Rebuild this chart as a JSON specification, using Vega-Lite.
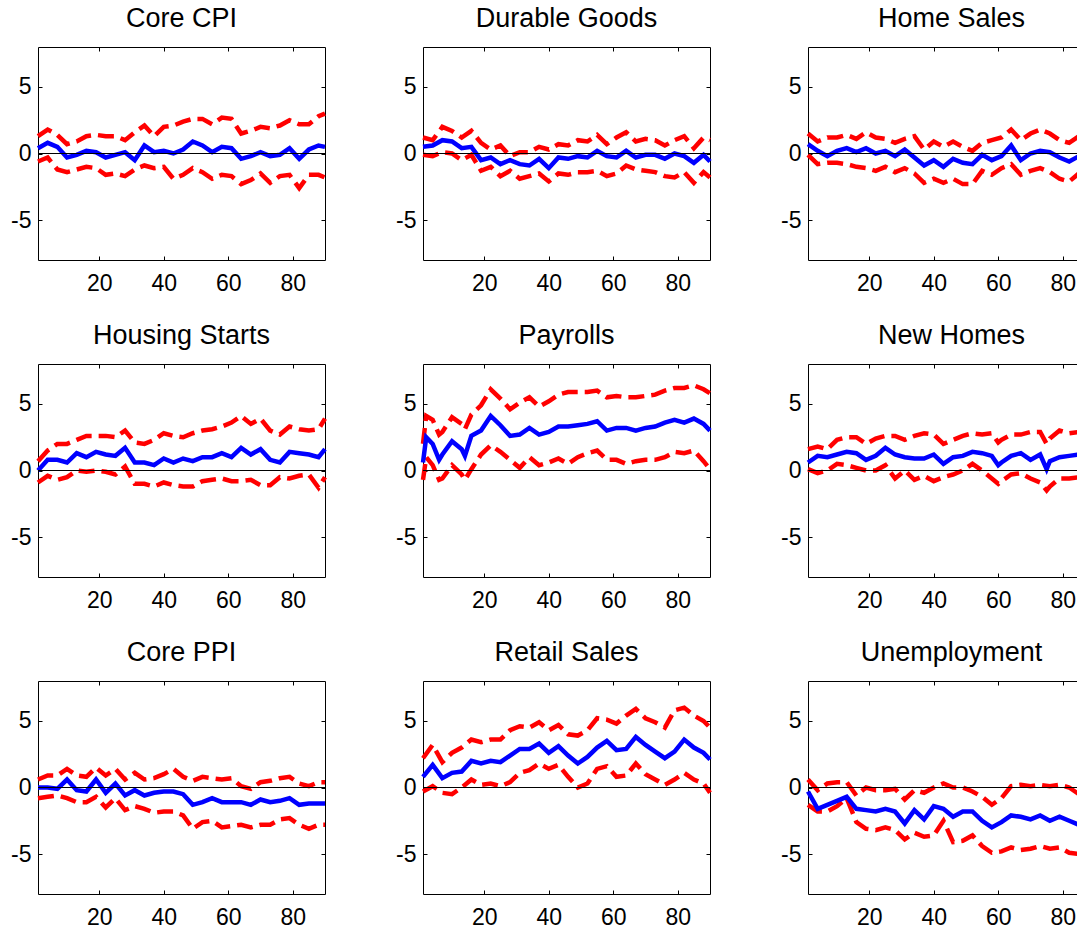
{
"$schema":"https://vega.github.io/schema/vega-lite/v6.json",
"padding":{"left":10,"top":4,"right":0,"bottom":0},
"background":"white",
"columns":3,
"spacing":{"row":26,"column":61},
"datasets":{
"cpi":[{"x":1,"m":0.4,"hi":1.3,"lo":-0.6},{"x":4,"m":0.8,"hi":1.8,"lo":-0.3},{"x":7,"m":0.5,"hi":1.4,"lo":-1.2},{"x":10,"m":-0.3,"hi":0.7,"lo":-1.4},{"x":13,"m":-0.1,"hi":0.9,"lo":-1.2},{"x":16,"m":0.2,"hi":1.3,"lo":-1.0},{"x":19,"m":0.1,"hi":1.4,"lo":-1.1},{"x":22,"m":-0.3,"hi":1.3,"lo":-1.6},{"x":25,"m":-0.1,"hi":1.3,"lo":-1.5},{"x":28,"m":0.1,"hi":1.0,"lo":-1.7},{"x":31,"m":-0.5,"hi":1.6,"lo":-1.2},{"x":34,"m":0.6,"hi":2.1,"lo":-0.9},{"x":37,"m":0.1,"hi":1.3,"lo":-1.1},{"x":40,"m":0.2,"hi":2.0,"lo":-1.0},{"x":43,"m":0.0,"hi":2.1,"lo":-1.9},{"x":46,"m":0.3,"hi":2.4,"lo":-1.6},{"x":49,"m":0.9,"hi":2.6,"lo":-1.1},{"x":52,"m":0.6,"hi":2.6,"lo":-1.4},{"x":55,"m":0.1,"hi":2.2,"lo":-1.9},{"x":58,"m":0.5,"hi":2.7,"lo":-1.6},{"x":61,"m":0.4,"hi":2.6,"lo":-1.7},{"x":64,"m":-0.4,"hi":1.5,"lo":-2.3},{"x":67,"m":-0.2,"hi":1.7,"lo":-2.0},{"x":70,"m":0.1,"hi":2.0,"lo":-1.5},{"x":73,"m":-0.2,"hi":1.9,"lo":-2.2},{"x":76,"m":-0.1,"hi":2.1,"lo":-1.7},{"x":79,"m":0.4,"hi":2.5,"lo":-1.6},{"x":82,"m":-0.4,"hi":2.2,"lo":-2.6},{"x":85,"m":0.3,"hi":2.2,"lo":-1.6},{"x":88,"m":0.6,"hi":2.8,"lo":-1.6},{"x":90,"m":0.5,"hi":3.0,"lo":-1.8}],
"dur":[{"x":1,"m":0.5,"hi":1.2,"lo":-0.1},{"x":4,"m":0.6,"hi":1.0,"lo":-0.2},{"x":7,"m":1.0,"hi":2.0,"lo":0.1},{"x":10,"m":0.9,"hi":1.7,"lo":0.0},{"x":13,"m":0.4,"hi":1.2,"lo":-0.5},{"x":16,"m":0.5,"hi":1.7,"lo":-0.1},{"x":19,"m":-0.5,"hi":0.8,"lo":-1.3},{"x":22,"m":-0.3,"hi":0.3,"lo":-1.0},{"x":25,"m":-0.8,"hi":0.6,"lo":-1.7},{"x":28,"m":-0.5,"hi":-0.2,"lo":-1.3},{"x":31,"m":-0.8,"hi":0.1,"lo":-1.9},{"x":34,"m":-0.9,"hi":0.1,"lo":-1.7},{"x":37,"m":-0.4,"hi":0.5,"lo":-1.5},{"x":40,"m":-1.1,"hi":0.3,"lo":-2.1},{"x":43,"m":-0.3,"hi":0.7,"lo":-1.5},{"x":46,"m":-0.4,"hi":0.6,"lo":-1.6},{"x":49,"m":-0.2,"hi":1.0,"lo":-1.4},{"x":52,"m":-0.3,"hi":0.9,"lo":-1.4},{"x":55,"m":0.2,"hi":1.4,"lo":-1.3},{"x":58,"m":-0.2,"hi":0.7,"lo":-1.7},{"x":61,"m":-0.3,"hi":1.2,"lo":-1.5},{"x":64,"m":0.2,"hi":1.6,"lo":-0.9},{"x":67,"m":-0.3,"hi":0.9,"lo":-1.2},{"x":70,"m":-0.1,"hi":1.1,"lo":-1.3},{"x":73,"m":-0.1,"hi":1.0,"lo":-1.4},{"x":76,"m":-0.4,"hi":0.6,"lo":-1.7},{"x":79,"m":0.0,"hi":1.0,"lo":-1.8},{"x":82,"m":-0.2,"hi":1.3,"lo":-1.4},{"x":85,"m":-0.7,"hi":0.4,"lo":-2.2},{"x":88,"m":-0.1,"hi":1.2,"lo":-1.4},{"x":90,"m":-0.6,"hi":1.0,"lo":-1.8}],
"home":[{"x":1,"m":0.7,"hi":1.5,"lo":-0.1},{"x":4,"m":0.2,"hi":0.9,"lo":-0.8},{"x":7,"m":-0.2,"hi":1.2,"lo":-0.7},{"x":10,"m":0.2,"hi":1.2,"lo":-0.7},{"x":13,"m":0.4,"hi":1.4,"lo":-0.8},{"x":16,"m":0.1,"hi":1.1,"lo":-1.0},{"x":19,"m":0.4,"hi":1.6,"lo":-1.1},{"x":22,"m":0.0,"hi":1.2,"lo":-1.3},{"x":25,"m":0.2,"hi":1.1,"lo":-1.0},{"x":28,"m":-0.2,"hi":0.8,"lo":-1.4},{"x":31,"m":0.3,"hi":1.1,"lo":-1.1},{"x":34,"m":-0.3,"hi":1.3,"lo":-1.5},{"x":37,"m":-0.9,"hi":0.3,"lo":-2.2},{"x":40,"m":-0.5,"hi":0.9,"lo":-1.9},{"x":43,"m":-1.0,"hi":0.5,"lo":-2.2},{"x":46,"m":-0.4,"hi":0.9,"lo":-1.9},{"x":49,"m":-0.7,"hi":0.5,"lo":-2.3},{"x":52,"m":-0.8,"hi":0.2,"lo":-2.3},{"x":55,"m":-0.1,"hi":0.8,"lo":-1.3},{"x":58,"m":-0.5,"hi":1.0,"lo":-1.6},{"x":61,"m":-0.2,"hi":1.2,"lo":-1.1},{"x":64,"m":0.6,"hi":1.8,"lo":-0.8},{"x":67,"m":-0.5,"hi":1.0,"lo":-1.6},{"x":70,"m":0.0,"hi":1.5,"lo":-1.3},{"x":73,"m":0.2,"hi":1.8,"lo":-1.1},{"x":76,"m":0.1,"hi":1.5,"lo":-1.4},{"x":79,"m":-0.3,"hi":1.0,"lo":-1.9},{"x":82,"m":-0.6,"hi":0.8,"lo":-2.1},{"x":85,"m":-0.2,"hi":1.3,"lo":-1.5},{"x":88,"m":-0.1,"hi":0.9,"lo":-1.7},{"x":90,"m":-0.6,"hi":0.6,"lo":-2.2}],
"hst":[{"x":1,"m":0.0,"hi":0.7,"lo":-0.9},{"x":4,"m":0.8,"hi":1.5,"lo":-0.4},{"x":7,"m":0.8,"hi":2.0,"lo":-0.7},{"x":10,"m":0.6,"hi":2.0,"lo":-0.5},{"x":13,"m":1.3,"hi":2.3,"lo":0.0},{"x":16,"m":1.0,"hi":2.6,"lo":-0.1},{"x":19,"m":1.4,"hi":2.6,"lo":0.0},{"x":22,"m":1.2,"hi":2.6,"lo":-0.1},{"x":25,"m":1.1,"hi":2.5,"lo":-0.3},{"x":28,"m":1.7,"hi":3.0,"lo":0.3},{"x":31,"m":0.6,"hi":2.1,"lo":-1.0},{"x":34,"m":0.6,"hi":2.0,"lo":-1.0},{"x":37,"m":0.4,"hi":2.3,"lo":-1.2},{"x":40,"m":0.9,"hi":2.8,"lo":-0.9},{"x":43,"m":0.6,"hi":2.6,"lo":-1.1},{"x":46,"m":0.9,"hi":2.5,"lo":-1.2},{"x":49,"m":0.7,"hi":2.8,"lo":-1.2},{"x":52,"m":1.0,"hi":3.0,"lo":-0.8},{"x":55,"m":1.0,"hi":3.1,"lo":-0.7},{"x":58,"m":1.3,"hi":3.3,"lo":-0.6},{"x":61,"m":1.0,"hi":3.6,"lo":-0.8},{"x":64,"m":1.7,"hi":4.1,"lo":-0.8},{"x":67,"m":1.2,"hi":3.5,"lo":-0.7},{"x":70,"m":1.6,"hi":3.9,"lo":-1.1},{"x":73,"m":0.8,"hi":3.0,"lo":-1.1},{"x":76,"m":0.6,"hi":2.7,"lo":-0.5},{"x":79,"m":1.4,"hi":3.3,"lo":-0.6},{"x":82,"m":1.3,"hi":3.1,"lo":-0.4},{"x":85,"m":1.2,"hi":3.0,"lo":-0.3},{"x":88,"m":1.0,"hi":3.1,"lo":-1.3},{"x":90,"m":1.6,"hi":3.9,"lo":-0.5}],
"pay":[{"x":1,"m":0.6,"hi":2.0,"lo":-0.7},{"x":2,"m":2.5,"hi":4.1,"lo":1.0},{"x":4,"m":2.0,"hi":3.8,"lo":0.4},{"x":6,"m":0.8,"hi":2.7,"lo":-0.7},{"x":7,"m":1.2,"hi":2.9,"lo":-0.6},{"x":10,"m":2.2,"hi":4.0,"lo":0.4},{"x":13,"m":1.6,"hi":3.5,"lo":-0.3},{"x":14,"m":1.1,"hi":3.1,"lo":-0.7},{"x":16,"m":2.6,"hi":4.2,"lo":0.1},{"x":19,"m":3.0,"hi":4.9,"lo":1.2},{"x":22,"m":4.1,"hi":6.1,"lo":1.9},{"x":25,"m":3.4,"hi":5.4,"lo":1.4},{"x":28,"m":2.6,"hi":4.6,"lo":0.8},{"x":31,"m":2.7,"hi":5.1,"lo":0.2},{"x":34,"m":3.2,"hi":5.5,"lo":1.0},{"x":37,"m":2.7,"hi":4.8,"lo":0.4},{"x":40,"m":2.9,"hi":5.2,"lo":0.6},{"x":43,"m":3.3,"hi":5.7,"lo":0.9},{"x":46,"m":3.3,"hi":5.9,"lo":0.5},{"x":49,"m":3.4,"hi":5.9,"lo":1.0},{"x":52,"m":3.5,"hi":5.9,"lo":1.3},{"x":55,"m":3.7,"hi":6.0,"lo":1.5},{"x":58,"m":3.0,"hi":5.5,"lo":0.8},{"x":61,"m":3.2,"hi":5.6,"lo":0.8},{"x":64,"m":3.2,"hi":5.5,"lo":0.5},{"x":67,"m":3.0,"hi":5.5,"lo":0.7},{"x":70,"m":3.2,"hi":5.6,"lo":0.8},{"x":73,"m":3.3,"hi":5.7,"lo":0.8},{"x":76,"m":3.6,"hi":6.0,"lo":1.0},{"x":79,"m":3.8,"hi":6.2,"lo":1.4},{"x":82,"m":3.6,"hi":6.2,"lo":1.3},{"x":85,"m":3.9,"hi":6.4,"lo":1.5},{"x":88,"m":3.5,"hi":6.1,"lo":0.7},{"x":90,"m":3.0,"hi":5.8,"lo":0.1}],
"nh":[{"x":1,"m":0.6,"hi":1.6,"lo":0.1},{"x":4,"m":1.1,"hi":1.8,"lo":-0.2},{"x":7,"m":1.0,"hi":1.6,"lo":0.0},{"x":10,"m":1.2,"hi":2.3,"lo":0.5},{"x":13,"m":1.4,"hi":2.5,"lo":0.4},{"x":16,"m":1.3,"hi":2.5,"lo":0.2},{"x":19,"m":0.8,"hi":2.0,"lo":0.0},{"x":22,"m":1.1,"hi":2.4,"lo":0.0},{"x":25,"m":1.7,"hi":2.6,"lo":0.4},{"x":28,"m":1.2,"hi":2.6,"lo":-0.6},{"x":31,"m":1.0,"hi":2.3,"lo":0.0},{"x":34,"m":0.9,"hi":2.6,"lo":-0.7},{"x":37,"m":0.9,"hi":2.8,"lo":-0.4},{"x":40,"m":1.2,"hi":2.7,"lo":-0.8},{"x":43,"m":0.5,"hi":2.0,"lo":-0.5},{"x":46,"m":1.0,"hi":2.3,"lo":-0.3},{"x":49,"m":1.1,"hi":2.6,"lo":0.0},{"x":52,"m":1.4,"hi":2.8,"lo":0.5},{"x":55,"m":1.3,"hi":2.7,"lo":0.0},{"x":58,"m":1.1,"hi":2.8,"lo":-0.6},{"x":60,"m":0.4,"hi":2.1,"lo":-1.0},{"x":61,"m":0.6,"hi":2.3,"lo":-0.8},{"x":64,"m":1.1,"hi":2.7,"lo":-0.3},{"x":67,"m":1.3,"hi":2.7,"lo":-0.2},{"x":70,"m":0.8,"hi":2.9,"lo":-0.6},{"x":73,"m":1.2,"hi":2.9,"lo":-0.9},{"x":75,"m":0.1,"hi":2.0,"lo":-1.5},{"x":76,"m":0.7,"hi":2.4,"lo":-1.2},{"x":79,"m":1.0,"hi":3.0,"lo":-0.6},{"x":82,"m":1.1,"hi":2.8,"lo":-0.6},{"x":85,"m":1.2,"hi":2.9,"lo":-0.5},{"x":88,"m":1.3,"hi":3.0,"lo":-0.3},{"x":90,"m":1.5,"hi":3.1,"lo":-0.1}],
"ppi":[{"x":1,"m":0.0,"hi":0.6,"lo":-0.8},{"x":4,"m":0.0,"hi":0.9,"lo":-0.7},{"x":7,"m":-0.1,"hi":0.9,"lo":-0.6},{"x":10,"m":0.6,"hi":1.4,"lo":-0.8},{"x":13,"m":-0.2,"hi":0.9,"lo":-1.1},{"x":16,"m":-0.3,"hi":0.8,"lo":-1.1},{"x":19,"m":0.6,"hi":1.5,"lo":-0.7},{"x":22,"m":-0.4,"hi":0.9,"lo":-1.5},{"x":25,"m":0.3,"hi":1.4,"lo":-0.8},{"x":28,"m":-0.6,"hi":0.6,"lo":-1.7},{"x":31,"m":-0.2,"hi":1.1,"lo":-1.4},{"x":34,"m":-0.6,"hi":0.6,"lo":-1.6},{"x":37,"m":-0.4,"hi":0.7,"lo":-1.9},{"x":40,"m":-0.3,"hi":1.0,"lo":-1.8},{"x":43,"m":-0.3,"hi":1.4,"lo":-1.8},{"x":46,"m":-0.5,"hi":0.8,"lo":-2.1},{"x":49,"m":-1.3,"hi":0.5,"lo":-3.1},{"x":52,"m":-1.1,"hi":0.8,"lo":-2.6},{"x":55,"m":-0.8,"hi":0.7,"lo":-2.5},{"x":58,"m":-1.1,"hi":0.6,"lo":-3.0},{"x":61,"m":-1.1,"hi":0.7,"lo":-2.9},{"x":64,"m":-1.1,"hi":0.1,"lo":-2.8},{"x":67,"m":-1.3,"hi":-0.1,"lo":-3.0},{"x":70,"m":-0.9,"hi":0.4,"lo":-2.8},{"x":73,"m":-1.1,"hi":0.5,"lo":-2.8},{"x":76,"m":-1.0,"hi":0.7,"lo":-2.4},{"x":79,"m":-0.8,"hi":0.8,"lo":-2.3},{"x":82,"m":-1.3,"hi":0.3,"lo":-2.8},{"x":85,"m":-1.2,"hi":0.1,"lo":-3.1},{"x":88,"m":-1.2,"hi":0.4,"lo":-2.8},{"x":90,"m":-1.2,"hi":0.4,"lo":-2.8}],
"ret":[{"x":1,"m":0.8,"hi":2.2,"lo":-0.3},{"x":4,"m":1.7,"hi":3.2,"lo":0.1},{"x":7,"m":0.7,"hi":1.9,"lo":-0.4},{"x":10,"m":1.1,"hi":2.6,"lo":-0.5},{"x":13,"m":1.2,"hi":3.0,"lo":0.0},{"x":16,"m":2.0,"hi":3.6,"lo":0.6},{"x":19,"m":1.8,"hi":3.4,"lo":0.2},{"x":22,"m":2.0,"hi":3.6,"lo":0.3},{"x":25,"m":1.9,"hi":3.6,"lo":0.1},{"x":28,"m":2.4,"hi":4.3,"lo":0.4},{"x":31,"m":2.9,"hi":4.6,"lo":1.1},{"x":34,"m":2.9,"hi":4.5,"lo":1.3},{"x":37,"m":3.3,"hi":4.9,"lo":1.8},{"x":40,"m":2.6,"hi":4.3,"lo":1.4},{"x":43,"m":3.1,"hi":4.7,"lo":1.7},{"x":46,"m":2.4,"hi":4.0,"lo":0.8},{"x":49,"m":1.8,"hi":3.9,"lo":0.0},{"x":52,"m":2.3,"hi":4.3,"lo":0.3},{"x":55,"m":3.0,"hi":5.2,"lo":1.4},{"x":58,"m":3.5,"hi":5.1,"lo":1.6},{"x":61,"m":2.8,"hi":4.8,"lo":0.8},{"x":64,"m":2.9,"hi":5.4,"lo":0.9},{"x":67,"m":3.8,"hi":5.9,"lo":1.8},{"x":70,"m":3.2,"hi":5.2,"lo":1.0},{"x":73,"m":2.7,"hi":4.9,"lo":0.6},{"x":76,"m":2.2,"hi":4.5,"lo":0.2},{"x":79,"m":2.7,"hi":5.8,"lo":0.6},{"x":82,"m":3.6,"hi":6.0,"lo":1.1},{"x":85,"m":3.0,"hi":5.4,"lo":0.6},{"x":88,"m":2.6,"hi":5.0,"lo":0.3},{"x":90,"m":2.1,"hi":4.5,"lo":-0.4}],
"une":[{"x":1,"m":-0.3,"hi":0.6,"lo":-1.3},{"x":4,"m":-1.6,"hi":-0.2,"lo":-1.8},{"x":7,"m":-1.3,"hi":0.3,"lo":-1.8},{"x":10,"m":-1.0,"hi":0.4,"lo":-1.4},{"x":13,"m":-0.7,"hi":0.4,"lo":-0.8},{"x":16,"m":-1.6,"hi":-0.6,"lo":-2.6},{"x":19,"m":-1.7,"hi":0.0,"lo":-3.1},{"x":22,"m":-1.8,"hi":-0.2,"lo":-3.2},{"x":25,"m":-1.6,"hi":-0.2,"lo":-3.0},{"x":28,"m":-1.8,"hi":-0.1,"lo":-3.2},{"x":31,"m":-2.7,"hi":-0.9,"lo":-3.9},{"x":34,"m":-1.7,"hi":-0.2,"lo":-3.4},{"x":37,"m":-2.4,"hi":-0.4,"lo":-3.7},{"x":40,"m":-1.4,"hi":0.0,"lo":-3.6},{"x":43,"m":-1.6,"hi":0.3,"lo":-2.5},{"x":46,"m":-2.2,"hi":0.0,"lo":-4.1},{"x":49,"m":-1.8,"hi":0.0,"lo":-4.0},{"x":52,"m":-1.8,"hi":-0.3,"lo":-3.6},{"x":55,"m":-2.5,"hi":-0.7,"lo":-4.4},{"x":58,"m":-3.0,"hi":-1.3,"lo":-4.9},{"x":61,"m":-2.6,"hi":-0.8,"lo":-4.8},{"x":64,"m":-2.1,"hi":0.1,"lo":-4.5},{"x":67,"m":-2.2,"hi":0.2,"lo":-4.7},{"x":70,"m":-2.4,"hi":0.1,"lo":-4.6},{"x":73,"m":-2.1,"hi":0.2,"lo":-4.4},{"x":76,"m":-2.5,"hi":0.1,"lo":-4.6},{"x":79,"m":-2.2,"hi":0.2,"lo":-4.5},{"x":82,"m":-2.5,"hi":0.0,"lo":-4.9},{"x":85,"m":-2.8,"hi":-0.5,"lo":-5.0},{"x":88,"m":-3.0,"hi":-0.4,"lo":-5.1},{"x":90,"m":-3.3,"hi":-0.6,"lo":-5.8}]
},
"concat":[
{"title":"Core CPI","data":{"name":"cpi"},"width":287,"height":213,"layer":[
{"transform":[{"fold":["lo","hi"],"as":["k","v"]}],"mark":{"type":"line","color":"#ff0000","strokeWidth":4.5,"strokeDash":[16,7]},"encoding":{"x":{"field":"x","type":"quantitative","scale":{"domain":[1,90],"nice":false,"zero":false},"axis":{"orient":"top","values":[20,40,60,80],"title":null}},"y":{"field":"v","type":"quantitative","scale":{"domain":[-8,8],"nice":false},"axis":{"orient":"right","values":[-5,0,5],"title":null}},"detail":{"field":"k"}}},
{"mark":{"type":"line","color":"#0000ff","strokeWidth":4.5},"encoding":{"x":{"field":"x","type":"quantitative","axis":{"values":[20,40,60,80],"title":null}},"y":{"field":"m","type":"quantitative","axis":{"values":[-5,0,5],"title":null,"labelExpr":"datum.value + ''"}}}},
{"mark":{"type":"rule","color":"black","strokeWidth":1},"encoding":{"y":{"datum":0,"type":"quantitative","axis":null}}}],
"resolve":{"axis":{"x":"independent","y":"independent"}}},
{"title":"Durable Goods","data":{"name":"dur"},"width":287,"height":213,"layer":[
{"transform":[{"fold":["lo","hi"],"as":["k","v"]}],"mark":{"type":"line","color":"#ff0000","strokeWidth":4.5,"strokeDash":[16,7]},"encoding":{"x":{"field":"x","type":"quantitative","scale":{"domain":[1,90],"nice":false,"zero":false},"axis":{"orient":"top","values":[20,40,60,80],"title":null}},"y":{"field":"v","type":"quantitative","scale":{"domain":[-8,8],"nice":false},"axis":{"orient":"right","values":[-5,0,5],"title":null}},"detail":{"field":"k"}}},
{"mark":{"type":"line","color":"#0000ff","strokeWidth":4.5},"encoding":{"x":{"field":"x","type":"quantitative","axis":{"values":[20,40,60,80],"title":null}},"y":{"field":"m","type":"quantitative","axis":{"values":[-5,0,5],"title":null,"labelExpr":"datum.value + ''"}}}},
{"mark":{"type":"rule","color":"black","strokeWidth":1},"encoding":{"y":{"datum":0,"type":"quantitative","axis":null}}}],
"resolve":{"axis":{"x":"independent","y":"independent"}}},
{"title":"Home Sales","data":{"name":"home"},"width":287,"height":213,"layer":[
{"transform":[{"fold":["lo","hi"],"as":["k","v"]}],"mark":{"type":"line","color":"#ff0000","strokeWidth":4.5,"strokeDash":[16,7]},"encoding":{"x":{"field":"x","type":"quantitative","scale":{"domain":[1,90],"nice":false,"zero":false},"axis":{"orient":"top","values":[20,40,60,80],"title":null}},"y":{"field":"v","type":"quantitative","scale":{"domain":[-8,8],"nice":false},"axis":null},"detail":{"field":"k"}}},
{"mark":{"type":"line","color":"#0000ff","strokeWidth":4.5},"encoding":{"x":{"field":"x","type":"quantitative","axis":{"values":[20,40,60,80],"title":null}},"y":{"field":"m","type":"quantitative","axis":{"values":[-5,0,5],"title":null,"labelExpr":"datum.value + ''"}}}},
{"mark":{"type":"rule","color":"black","strokeWidth":1},"encoding":{"y":{"datum":0,"type":"quantitative","axis":null}}}],
"resolve":{"axis":{"x":"independent","y":"independent"}}},
{"title":"Housing Starts","data":{"name":"hst"},"width":287,"height":213,"layer":[
{"transform":[{"fold":["lo","hi"],"as":["k","v"]}],"mark":{"type":"line","color":"#ff0000","strokeWidth":4.5,"strokeDash":[16,7]},"encoding":{"x":{"field":"x","type":"quantitative","scale":{"domain":[1,90],"nice":false,"zero":false},"axis":{"orient":"top","values":[20,40,60,80],"title":null}},"y":{"field":"v","type":"quantitative","scale":{"domain":[-8,8],"nice":false},"axis":{"orient":"right","values":[-5,0,5],"title":null}},"detail":{"field":"k"}}},
{"mark":{"type":"line","color":"#0000ff","strokeWidth":4.5},"encoding":{"x":{"field":"x","type":"quantitative","axis":{"values":[20,40,60,80],"title":null}},"y":{"field":"m","type":"quantitative","axis":{"values":[-5,0,5],"title":null,"labelExpr":"datum.value + ''"}}}},
{"mark":{"type":"rule","color":"black","strokeWidth":1},"encoding":{"y":{"datum":0,"type":"quantitative","axis":null}}}],
"resolve":{"axis":{"x":"independent","y":"independent"}}},
{"title":"Payrolls","data":{"name":"pay"},"width":287,"height":213,"layer":[
{"transform":[{"fold":["lo","hi"],"as":["k","v"]}],"mark":{"type":"line","color":"#ff0000","strokeWidth":4.5,"strokeDash":[16,7]},"encoding":{"x":{"field":"x","type":"quantitative","scale":{"domain":[1,90],"nice":false,"zero":false},"axis":{"orient":"top","values":[20,40,60,80],"title":null}},"y":{"field":"v","type":"quantitative","scale":{"domain":[-8,8],"nice":false},"axis":{"orient":"right","values":[-5,0,5],"title":null}},"detail":{"field":"k"}}},
{"mark":{"type":"line","color":"#0000ff","strokeWidth":4.5},"encoding":{"x":{"field":"x","type":"quantitative","axis":{"values":[20,40,60,80],"title":null}},"y":{"field":"m","type":"quantitative","axis":{"values":[-5,0,5],"title":null,"labelExpr":"datum.value + ''"}}}},
{"mark":{"type":"rule","color":"black","strokeWidth":1},"encoding":{"y":{"datum":0,"type":"quantitative","axis":null}}}],
"resolve":{"axis":{"x":"independent","y":"independent"}}},
{"title":"New Homes","data":{"name":"nh"},"width":287,"height":213,"layer":[
{"transform":[{"fold":["lo","hi"],"as":["k","v"]}],"mark":{"type":"line","color":"#ff0000","strokeWidth":4.5,"strokeDash":[16,7]},"encoding":{"x":{"field":"x","type":"quantitative","scale":{"domain":[1,90],"nice":false,"zero":false},"axis":{"orient":"top","values":[20,40,60,80],"title":null}},"y":{"field":"v","type":"quantitative","scale":{"domain":[-8,8],"nice":false},"axis":null},"detail":{"field":"k"}}},
{"mark":{"type":"line","color":"#0000ff","strokeWidth":4.5},"encoding":{"x":{"field":"x","type":"quantitative","axis":{"values":[20,40,60,80],"title":null}},"y":{"field":"m","type":"quantitative","axis":{"values":[-5,0,5],"title":null,"labelExpr":"datum.value + ''"}}}},
{"mark":{"type":"rule","color":"black","strokeWidth":1},"encoding":{"y":{"datum":0,"type":"quantitative","axis":null}}}],
"resolve":{"axis":{"x":"independent","y":"independent"}}},
{"title":"Core PPI","data":{"name":"ppi"},"width":287,"height":213,"layer":[
{"transform":[{"fold":["lo","hi"],"as":["k","v"]}],"mark":{"type":"line","color":"#ff0000","strokeWidth":4.5,"strokeDash":[16,7]},"encoding":{"x":{"field":"x","type":"quantitative","scale":{"domain":[1,90],"nice":false,"zero":false},"axis":{"orient":"top","values":[20,40,60,80],"title":null}},"y":{"field":"v","type":"quantitative","scale":{"domain":[-8,8],"nice":false},"axis":{"orient":"right","values":[-5,0,5],"title":null}},"detail":{"field":"k"}}},
{"mark":{"type":"line","color":"#0000ff","strokeWidth":4.5},"encoding":{"x":{"field":"x","type":"quantitative","axis":{"values":[20,40,60,80],"title":null}},"y":{"field":"m","type":"quantitative","axis":{"values":[-5,0,5],"title":null,"labelExpr":"datum.value + ''"}}}},
{"mark":{"type":"rule","color":"black","strokeWidth":1},"encoding":{"y":{"datum":0,"type":"quantitative","axis":null}}}],
"resolve":{"axis":{"x":"independent","y":"independent"}}},
{"title":"Retail Sales","data":{"name":"ret"},"width":287,"height":213,"layer":[
{"transform":[{"fold":["lo","hi"],"as":["k","v"]}],"mark":{"type":"line","color":"#ff0000","strokeWidth":4.5,"strokeDash":[16,7]},"encoding":{"x":{"field":"x","type":"quantitative","scale":{"domain":[1,90],"nice":false,"zero":false},"axis":{"orient":"top","values":[20,40,60,80],"title":null}},"y":{"field":"v","type":"quantitative","scale":{"domain":[-8,8],"nice":false},"axis":{"orient":"right","values":[-5,0,5],"title":null}},"detail":{"field":"k"}}},
{"mark":{"type":"line","color":"#0000ff","strokeWidth":4.5},"encoding":{"x":{"field":"x","type":"quantitative","axis":{"values":[20,40,60,80],"title":null}},"y":{"field":"m","type":"quantitative","axis":{"values":[-5,0,5],"title":null,"labelExpr":"datum.value + ''"}}}},
{"mark":{"type":"rule","color":"black","strokeWidth":1},"encoding":{"y":{"datum":0,"type":"quantitative","axis":null}}}],
"resolve":{"axis":{"x":"independent","y":"independent"}}},
{"title":"Unemployment","data":{"name":"une"},"width":287,"height":213,"layer":[
{"transform":[{"fold":["lo","hi"],"as":["k","v"]}],"mark":{"type":"line","color":"#ff0000","strokeWidth":4.5,"strokeDash":[16,7]},"encoding":{"x":{"field":"x","type":"quantitative","scale":{"domain":[1,90],"nice":false,"zero":false},"axis":{"orient":"top","values":[20,40,60,80],"title":null}},"y":{"field":"v","type":"quantitative","scale":{"domain":[-8,8],"nice":false},"axis":null},"detail":{"field":"k"}}},
{"mark":{"type":"line","color":"#0000ff","strokeWidth":4.5},"encoding":{"x":{"field":"x","type":"quantitative","axis":{"values":[20,40,60,80],"title":null}},"y":{"field":"m","type":"quantitative","axis":{"values":[-5,0,5],"title":null,"labelExpr":"datum.value + ''"}}}},
{"mark":{"type":"rule","color":"black","strokeWidth":1},"encoding":{"y":{"datum":0,"type":"quantitative","axis":null}}}],
"resolve":{"axis":{"x":"independent","y":"independent"}}}
],
"config":{
"font":"Liberation Sans",
"view":{"stroke":null},
"axis":{"grid":false,"domainColor":"black","domainWidth":1,"tickColor":"black","tickWidth":1,"tickSize":-4,"labelFontSize":23,"labelColor":"black","labelFont":"Liberation Sans","labelOverlap":false,"labelFlush":false},
"axisTop":{"labels":false,"minExtent":0,"maxExtent":0},
"axisRight":{"labels":false,"minExtent":0,"maxExtent":0},
"axisBottom":{"labelPadding":16,"minExtent":35,"maxExtent":35},
"axisLeft":{"labelPadding":11,"minExtent":28,"maxExtent":28},
"title":{"fontSize":27,"fontWeight":"normal","color":"black","font":"Liberation Sans","baseline":"alphabetic","offset":14,"anchor":"middle"}
}
}
